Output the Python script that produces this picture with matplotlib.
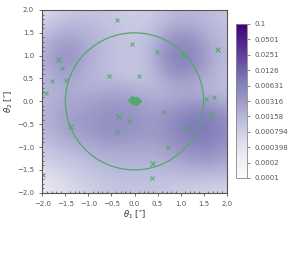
import numpy as np
import matplotlib
matplotlib.use("Agg")
import matplotlib.pyplot as plt
from matplotlib.colors import LogNorm
from matplotlib.patches import Circle

# background density grid (colormap fraction), rows from theta2=+2 (top) to -2, cols theta1=-2..2 step 0.5
grid_axis = [-2.0, -1.5, -1.0, -0.5, 0.0, 0.5, 1.0, 1.5, 2.0]
frac_rows = [
    [0.22, 0.28, 0.33, 0.33, 0.28, 0.33, 0.38, 0.38, 0.33],
    [0.33, 0.42, 0.42, 0.36, 0.32, 0.36, 0.48, 0.42, 0.36],
    [0.38, 0.57, 0.42, 0.36, 0.33, 0.42, 0.66, 0.48, 0.36],
    [0.38, 0.45, 0.38, 0.36, 0.30, 0.36, 0.48, 0.42, 0.36],
    [0.38, 0.45, 0.45, 0.50, 0.48, 0.42, 0.42, 0.42, 0.36],
    [0.38, 0.50, 0.52, 0.58, 0.55, 0.50, 0.62, 0.68, 0.55],
    [0.33, 0.38, 0.42, 0.45, 0.45, 0.45, 0.52, 0.58, 0.50],
    [0.22, 0.28, 0.33, 0.38, 0.38, 0.38, 0.38, 0.38, 0.38],
    [0.12, 0.22, 0.28, 0.33, 0.33, 0.33, 0.28, 0.28, 0.22],
]

# source positions (x markers)
src_x = [-0.39, -0.05, 0.48, 1.02, 1.78, -1.67, -1.57, -1.78, -1.49, -1.93,
         -0.56, 0.09, 1.55, 1.73, 1.65, 0.65, -0.36, -0.12, -0.39, -1.41,
         1.10, 0.73, 0.38, 0.37, -1.98]
src_y = [1.79, 1.25, 1.08, 1.04, 1.15, 0.93, 0.74, 0.45, 0.47, 0.18,
         0.55, 0.55, 0.06, 0.09, -0.28, -0.24, -0.32, -0.44, -0.67, -0.54,
         -0.58, -0.99, -1.34, -1.68, -1.61]
src_big = [0, 0, 0, 1, 1, 1, 0, 0, 0, 0,
           0, 0, 0, 0, 1, 0, 1, 0, 0, 1,
           1, 0, 1, 0, 0]

# central lens markers
lens_x = [-0.05, 0.0, 0.05]
lens_y = [0.02, 0.01, 0.0]

circle_radius = 1.5

cbar_ticks = [0.0001, 0.0002, 0.000398, 0.000794, 0.00158, 0.00316,
              0.00631, 0.0126, 0.0251, 0.0501, 0.1]
cbar_labels = ["0.0001", "0.0002", "0.000398", "0.000794", "0.00158", "0.00316",
               "0.00631", "0.0126", "0.0251", "0.0501", "0.1"]

green = "#55a868"
tick_color = "#555555"

fig = plt.figure(figsize=(2.93, 2.56), dpi=100)
ax = fig.add_axes([0.1444, 0.2473, 0.6293, 0.7137])
cax = fig.add_axes([0.8055, 0.3047, 0.0375, 0.6016])

vals = 10 ** (-4 + 3 * np.array(frac_rows))
norm = LogNorm(vmin=1e-4, vmax=1e-1)
step = grid_axis[1] - grid_axis[0]
im = ax.imshow(vals, cmap="Purples", norm=norm, interpolation="bicubic",
               extent=[grid_axis[0] - step / 2, grid_axis[-1] + step / 2,
                       grid_axis[0] - step / 2, grid_axis[-1] + step / 2],
               origin="upper", aspect="auto")

ax.add_patch(Circle((0, 0), circle_radius, fill=False, ec=green, lw=0.9))

for x, y, b in zip(src_x, src_y, src_big):
    ax.plot(x, y, marker="x", color=green, ms=3.6 if b else 2.6,
            mew=0.9 if b else 0.7, ls="none")
ax.plot(lens_x, lens_y, marker="D", color=green, ms=4.5, ls="none", alpha=0.9)

ax.set_xlim(-2, 2)
ax.set_ylim(-2, 2)
ticks = [-2.0, -1.5, -1.0, -0.5, 0.0, 0.5, 1.0, 1.5, 2.0]
ax.set_xticks(ticks)
ax.set_yticks(ticks)
ax.set_xticklabels([f"{t:.1f}".replace("-", "\u2212") for t in ticks])
ax.set_yticklabels([f"{t:.1f}".replace("-", "\u2212") for t in ticks])
ax.minorticks_on()
ax.tick_params(which="major", labelsize=5, colors=tick_color, length=2.5, width=0.6)
ax.tick_params(which="minor", length=1.5, width=0.5, colors="#444444", direction="in")
for s in ax.spines.values():
    s.set_color("#555555")
    s.set_linewidth(0.8)
ax.set_xlabel("$\\theta_1$ [\u2033]", fontsize=6, color="#333333", labelpad=1)
ax.set_ylabel("$\\theta_2$ [\u2033]", fontsize=6, color="#333333", labelpad=1)

cb = fig.colorbar(im, cax=cax)
cb.set_ticks(cbar_ticks)
cb.set_ticklabels(cbar_labels)
cb.minorticks_off()
cax.tick_params(labelsize=5, colors=tick_color, length=2, width=0.5)
cb.outline.set_edgecolor("#888888")
cb.outline.set_linewidth(0.6)

fig.savefig("out.png", dpi=100)
